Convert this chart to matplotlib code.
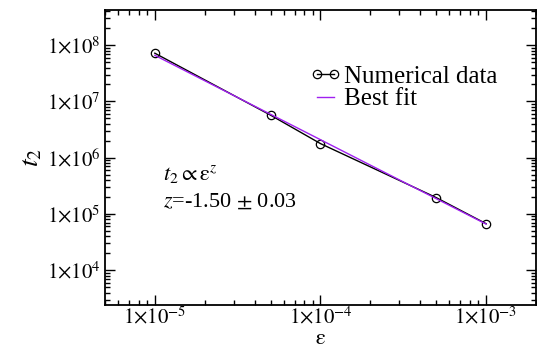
import matplotlib
matplotlib.use("Agg")
import matplotlib.pyplot as plt
from matplotlib.ticker import LogLocator, FuncFormatter, NullFormatter
import numpy as np

# values
eps = [1e-5, 5e-5, 1e-4, 5e-4, 1e-3]
t2 = [7.2e7, 5.7e6, 1.78e6, 1.95e5, 6.7e4]
fit_eps = [1e-5, 1e-3]
fit_t2 = [6.6e7, 6.6e4]

plt.rcParams["font.family"] = ["Liberation Serif", "DejaVu Serif"]
plt.rcParams["mathtext.fontset"] = "stix"

fig = plt.figure(figsize=(5.37, 3.49), dpi=100)
ax = fig.add_axes([0.1955, 0.126, 0.8025, 0.845])

ax.plot(eps, t2, "-", color="black", lw=1.0, marker="o", mfc="none",
        mec="black", ms=6, mew=0.9, label="Numerical data")
ax.plot(fit_eps, fit_t2, "-", color="#a020f0", lw=1.0, label="Best fit")

ax.set_xscale("log")
ax.set_yscale("log")
ax.set_xlim(5e-6, 2e-3)
ax.set_ylim(2.4e3, 4.2e8)


def sci(v, pos):
    e = int(round(np.log10(v)))
    return r"$1{\times}10^{%d}$" % e


ax.xaxis.set_major_locator(LogLocator(base=10, numticks=10))
ax.yaxis.set_major_locator(LogLocator(base=10, numticks=10))
ax.xaxis.set_minor_locator(LogLocator(base=10, subs=np.arange(2, 10), numticks=20))
ax.yaxis.set_minor_locator(LogLocator(base=10, subs=np.arange(2, 10), numticks=20))
ax.xaxis.set_major_formatter(FuncFormatter(sci))
ax.yaxis.set_major_formatter(FuncFormatter(sci))
ax.xaxis.set_minor_formatter(NullFormatter())
ax.yaxis.set_minor_formatter(NullFormatter())

ax.tick_params(which="both", direction="in", top=True, right=True, width=1.0)
ax.tick_params(which="major", length=7, labelsize=15)
ax.tick_params(axis="x", which="major", pad=1)
ax.tick_params(axis="y", which="major", pad=3)
ax.tick_params(which="minor", length=3.5)
for s in ax.spines.values():
    s.set_linewidth(1.3)

ax.set_xlabel(r"$\mathrm{\varepsilon}$", fontsize=16, va="bottom")
ax.xaxis.set_label_coords(0.5, -0.148)
ax.set_ylabel(r"$t_2$", fontsize=20, labelpad=2)

ax.text(0.135, 0.425, r"$t_2 \propto \mathrm{\varepsilon}^{z}$",
        transform=ax.transAxes, fontsize=16)
ax.text(0.135, 0.335, r"$z$=-1.50 $\pm$ 0.03", transform=ax.transAxes,
        fontsize=16)

ax.legend(loc="upper left", bbox_to_anchor=(0.445, 0.855), frameon=False,
          fontsize=18, numpoints=2, handlelength=1.3, handletextpad=0.1,
          labelspacing=0.0, borderpad=0)

fig.savefig("out.png", dpi=100)
